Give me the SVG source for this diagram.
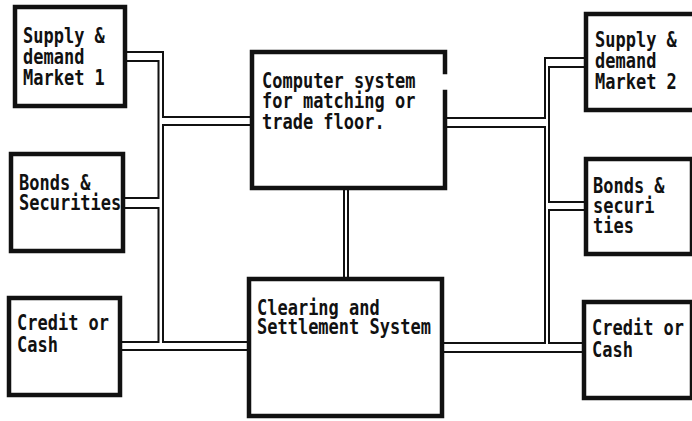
<svg xmlns="http://www.w3.org/2000/svg" width="692" height="421" viewBox="0 0 692 421">
<style>
.box{fill:#fff;stroke:#111;stroke-width:4.5;stroke-linecap:square}
.ln{fill:none;stroke:#111;stroke-width:2}
text{font-family:"DejaVu Sans Mono","Liberation Mono",monospace;font-size:17px;font-weight:bold;fill:#111}
</style>
<rect width="692" height="421" fill="#fff"/>
<g id="connectors">
<path class="ln" d="M127 52 H163 V117 H250"/>
<path class="ln" d="M127 61 H158.5 V198 H125"/>
<path class="ln" d="M250 125 H163 V342 H247"/>
<path class="ln" d="M125 208 H158.5 V342 H122"/>
<path class="ln" d="M122 350 H247"/>
<path class="ln" d="M584 58 H545 V118 H447"/>
<path class="ln" d="M584 67 H549 V202 H584"/>
<path class="ln" d="M447 127 H545 V343 H443"/>
<path class="ln" d="M584 210 H549 V343 H582"/>
<path class="ln" d="M443 352 H582"/>
<path class="ln" d="M344 190 V277 M348 190 V277"/>
</g>
<g id="market1">
<rect class="box" x="15" y="7" width="110" height="99"/>
<text transform="matrix(1,0,0,1.2,23,43)">Supply &amp;</text>
<text transform="matrix(1,0,0,1.2,23,64)">demand</text>
<text transform="matrix(1,0,0,1.2,23,85)">Market 1</text>
</g>
<g id="bonds1">
<rect class="box" x="11" y="154" width="112" height="97"/>
<text transform="matrix(1,0,0,1.2,19,190)">Bonds &amp;</text>
<text transform="matrix(1,0,0,1.2,19,210)">Securities</text>
</g>
<g id="credit1">
<rect class="box" x="9" y="298" width="111" height="97"/>
<text transform="matrix(1,0,0,1.2,17,330)">Credit or</text>
<text transform="matrix(1,0,0,1.2,17,352)">Cash</text>
</g>
<g id="computer">
<path class="box" d="M445 72 V52 H252 V188 H445 V92"/>
<text transform="matrix(1,0,0,1.2,262,88)">Computer system</text>
<text transform="matrix(1,0,0,1.2,262,108)">for matching or</text>
<text transform="matrix(1,0,0,1.2,262,129)">trade floor.</text>
</g>
<g id="clearing">
<rect class="box" x="249" y="279" width="193" height="137"/>
<text transform="matrix(1,0,0,1.2,257,315)">Clearing and</text>
<text transform="matrix(1,0,0,1.2,257,334)">Settlement System</text>
</g>
<g id="market2">
<rect class="box" x="586" y="14" width="110" height="96"/>
<text transform="matrix(1,0,0,1.2,595,47)">Supply &amp;</text>
<text transform="matrix(1,0,0,1.2,595,68)">demand</text>
<text transform="matrix(1,0,0,1.2,595,89)">Market 2</text>
</g>
<g id="bonds2">
<rect class="box" x="586" y="159" width="106" height="95"/>
<text transform="matrix(1,0,0,1.2,593,193)">Bonds &amp;</text>
<text transform="matrix(1,0,0,1.2,593,213)">securi</text>
<text transform="matrix(1,0,0,1.2,593,233)">ties</text>
</g>
<g id="credit2">
<rect class="box" x="584" y="302" width="108" height="96"/>
<text transform="matrix(1,0,0,1.2,592,335)">Credit or</text>
<text transform="matrix(1,0,0,1.2,592,357)">Cash</text>
</g>
</svg>
